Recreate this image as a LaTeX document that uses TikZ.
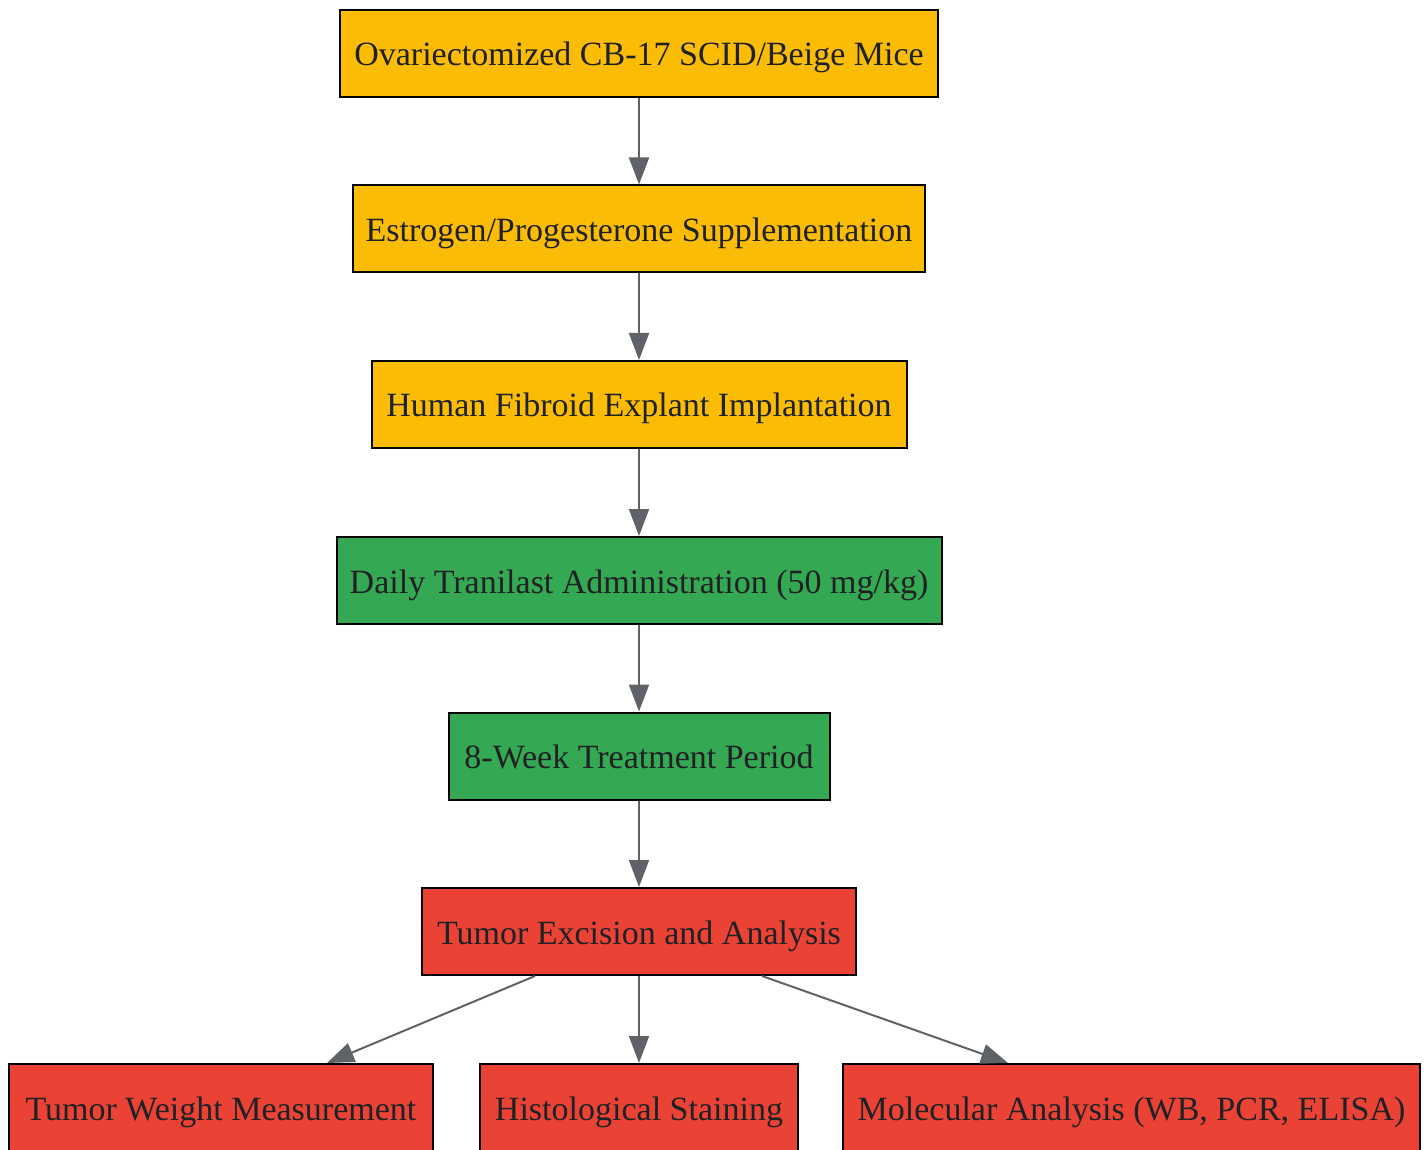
\documentclass[tikz,border=0pt]{standalone}
\usepackage{fontspec}
\setmainfont{Liberation Serif}
\usetikzlibrary{arrows.meta}
\definecolor{gy}{HTML}{FBBC05}
\definecolor{gg}{HTML}{34A853}
\definecolor{gr}{HTML}{EA4335}
\definecolor{edgec}{HTML}{5F6368}
\definecolor{txt}{HTML}{202124}
\tikzset{
  box/.style={draw=black, line width=2pt, inner sep=0pt, text=txt,
    font=\fontsize{34}{40}\selectfont, minimum height=87pt,
    text height=27pt, text depth=2pt},
  arr/.style={draw=edgec, line width=2pt, -{Triangle[length=27pt,width=20pt]}},
}
\begin{document}
\begin{tikzpicture}[x=1pt,y=-1pt]
\useasboundingbox (0,0) rectangle (1428,1150);
\node[box, fill=gy, minimum width=598pt] (a) at (639,53.5) {Ovariectomized CB-17 SCID/Beige Mice};
\node[box, fill=gy, minimum width=572pt] (b) at (639,229) {Estrogen/Progesterone Supplementation};
\node[box, fill=gy, minimum width=535pt] (c) at (639,404.5) {Human Fibroid Explant Implantation};
\node[box, fill=gg, minimum width=605pt] (d) at (639,580.5) {Daily Tranilast Administration (50 mg/kg)};
\node[box, fill=gg, minimum width=381pt] (e) at (639,756) {8-Week Treatment Period};
\node[box, fill=gr, minimum width=434pt] (f) at (639,931.5) {Tumor Excision and Analysis};
\node[box, fill=gr, minimum width=424pt] (g) at (221,1107.5) {Tumor Weight Measurement};
\node[box, fill=gr, minimum width=318pt] (h) at (639,1107.5) {Histological Staining};
\node[box, fill=gr, minimum width=577pt] (i) at (1131.5,1107.5) {Molecular Analysis (WB, PCR, ELISA)};
\draw[arr] (a.south) -- (b.north);
\draw[arr] (b.south) -- (c.north);
\draw[arr] (c.south) -- (d.north);
\draw[arr] (d.south) -- (e.north);
\draw[arr] (e.south) -- (f.north);
\draw[arr] ([xshift=-104pt]f.south) -- ([xshift=106pt]g.north);
\draw[arr] (f.south) -- (h.north);
\draw[arr] ([xshift=123pt]f.south) -- ([xshift=-123.5pt]i.north);
\end{tikzpicture}
\end{document}
